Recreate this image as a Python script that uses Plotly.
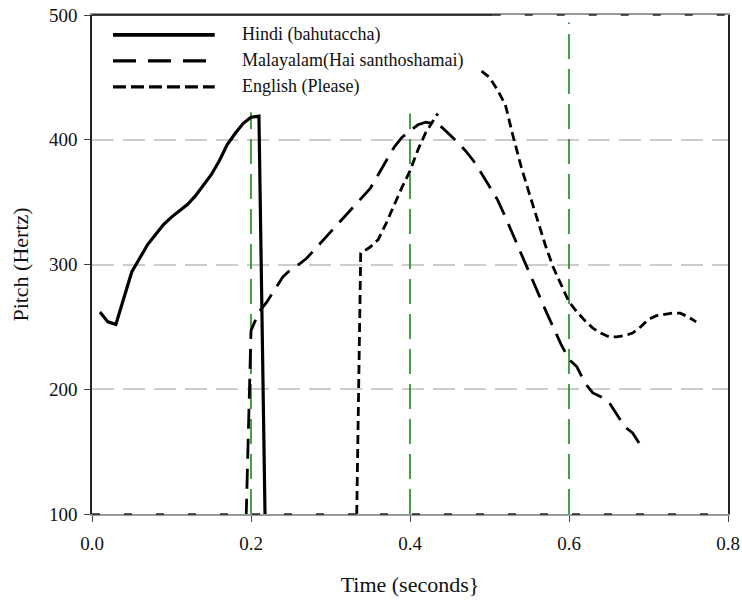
import plotly.graph_objects as go

# ---- data ----
hindi_t = [0.01, 0.02, 0.03, 0.04, 0.05, 0.06, 0.07, 0.08, 0.09, 0.10, 0.11, 0.12,
           0.13, 0.14, 0.15, 0.16, 0.17, 0.18, 0.19, 0.20, 0.21, 0.22]
hindi_f = [262, 254, 252, 272, 294, 305, 316, 324, 332, 338, 343, 348,
           355, 363, 372, 383, 396, 405, 413, 418, 419, 0]

mal_t = [0.19, 0.20, 0.21, 0.22, 0.23, 0.24, 0.25, 0.26, 0.27, 0.28, 0.29, 0.30,
         0.31, 0.32, 0.33, 0.34, 0.35, 0.36, 0.37, 0.38, 0.39, 0.40, 0.41, 0.42,
         0.43, 0.44, 0.45, 0.46, 0.47, 0.48, 0.49, 0.50, 0.51, 0.52, 0.53, 0.54,
         0.55, 0.56, 0.57, 0.58, 0.59, 0.60, 0.61, 0.62, 0.63, 0.64, 0.65, 0.66,
         0.67, 0.68, 0.69]
mal_f = [0, 247, 262, 270, 280, 290, 296, 300, 305, 312, 319, 326,
         333, 340, 347, 354, 361, 372, 383, 394, 402, 407, 412, 414,
         413, 410, 404, 398, 391, 383, 373, 362, 352, 338, 323, 308,
         293, 279, 264, 250, 236, 224, 218, 205, 197, 194, 190, 180,
         170, 165, 155]

eng_t = [0.333, 0.338, 0.35, 0.36, 0.37, 0.38, 0.39, 0.40, 0.41, 0.42, 0.43, 0.435,
         None,
         0.49, 0.50, 0.51, 0.52, 0.53, 0.54, 0.55, 0.56, 0.57, 0.58, 0.59, 0.60,
         0.61, 0.62, 0.63, 0.64, 0.65, 0.66, 0.67, 0.68, 0.69, 0.70, 0.71, 0.72,
         0.73, 0.74, 0.75, 0.76]
eng_f = [100, 309, 314, 320, 333, 348, 362, 375, 392, 406, 416, 421,
         None,
         455, 450, 440, 428, 402, 378, 357, 337, 316, 298, 284, 270,
         262, 255, 249, 245, 242, 242, 243, 245, 250, 256, 259, 260,
         261, 261, 258, 254]

marker_t = [0.2, 0.4, 0.6]
marker_top = [422, 421, 494]

series_names = ["Hindi (bahutaccha)", "Malayalam(Hai santhoshamai)", "English (Please)"]
series_dash = ["solid", "20px,10px", "9px,5px"]
legend_dash = ["solid", "23px,12px", "13px,5px"]
series_width = [3.2, 2.8, 2.8]

FONT = "Liberation Serif, Times New Roman, serif"

fig = go.Figure()

# green reference lines
for t, top in zip(marker_t, marker_top):
    fig.add_trace(go.Scatter(x=[t, t], y=[100, top], mode="lines",
                             line=dict(color="#1a8a1a", width=1.6, dash="25px,10px"),
                             showlegend=False, hoverinfo="skip"))

data = [(hindi_t, hindi_f), (mal_t, mal_f), (eng_t, eng_f)]
for (t, f), name, dash, w in zip(data, series_names, series_dash, series_width):
    fig.add_trace(go.Scatter(x=t, y=f, mode="lines", name=name,
                             line=dict(color="black", width=w, dash=dash),
                             connectgaps=False, showlegend=False))

# custom legend (lines + text)
leg_y = [0.960, 0.908, 0.856]
for yy, name, dash, w in zip(leg_y, series_names, legend_dash, series_width):
    fig.add_shape(type="line", xref="paper", yref="paper", x0=0.033, x1=0.193,
                  y0=yy, y1=yy, line=dict(color="black", width=w + 0.6, dash=dash))
    fig.add_annotation(xref="paper", yref="paper", x=0.232, y=yy, text=name,
                       showarrow=False, xanchor="left", yanchor="middle",
                       font=dict(family=FONT, size=18, color="#111"))

# frame details: black top border segment, dashed dark overlay on rest
fig.add_shape(type="line", xref="paper", yref="paper", x0=0, x1=0.63, y0=1, y1=1,
              line=dict(color="black", width=1.5))
fig.add_shape(type="line", xref="paper", yref="paper", x0=0.63, x1=1, y0=1, y1=1,
              line=dict(color="#222", width=1.5, dash="8px,24px"))
fig.add_shape(type="line", xref="paper", yref="paper", x0=0, x1=1, y0=0, y1=0,
              line=dict(color="#222", width=1.5, dash="8px,24px"))

fig.update_layout(
    width=742, height=600,
    margin=dict(l=92, r=14, t=15, b=86, autoexpand=False),
    paper_bgcolor="white", plot_bgcolor="white",
    font=dict(family=FONT, size=19, color="#111"),
    showlegend=False,
)
fig.update_xaxes(range=[0, 0.8], tickvals=[0, 0.2, 0.4, 0.6, 0.8],
                 ticktext=["0.0", "0.2", "0.4", "0.6", "0.8"],
                 showgrid=False, zeroline=False, showline=True, linecolor="#999",
                 linewidth=1.5, mirror=True, ticks="outside", ticklen=6,
                 tickcolor="#444", automargin=False, ticklabelstandoff=5,
                 tickfont=dict(family=FONT, size=19),
                 title=dict(text="Time (seconds}", standoff=24,
                            font=dict(family=FONT, size=22)))
fig.update_yaxes(range=[100, 500], tickvals=[100, 200, 300, 400, 500],
                 showgrid=True, gridcolor="#cccccc", gridwidth=1.5,
                 griddash="22px,9px", zeroline=False, showline=True,
                 linecolor="#222", linewidth=1.5, mirror=True,
                 ticks="outside", ticklen=6, tickcolor="#444", automargin=False,
                 ticklabelstandoff=3,
                 tickfont=dict(family=FONT, size=19),
                 title=dict(text="Pitch (Hertz)", standoff=14,
                            font=dict(family=FONT, size=22)))

fig.write_html("out.html")
